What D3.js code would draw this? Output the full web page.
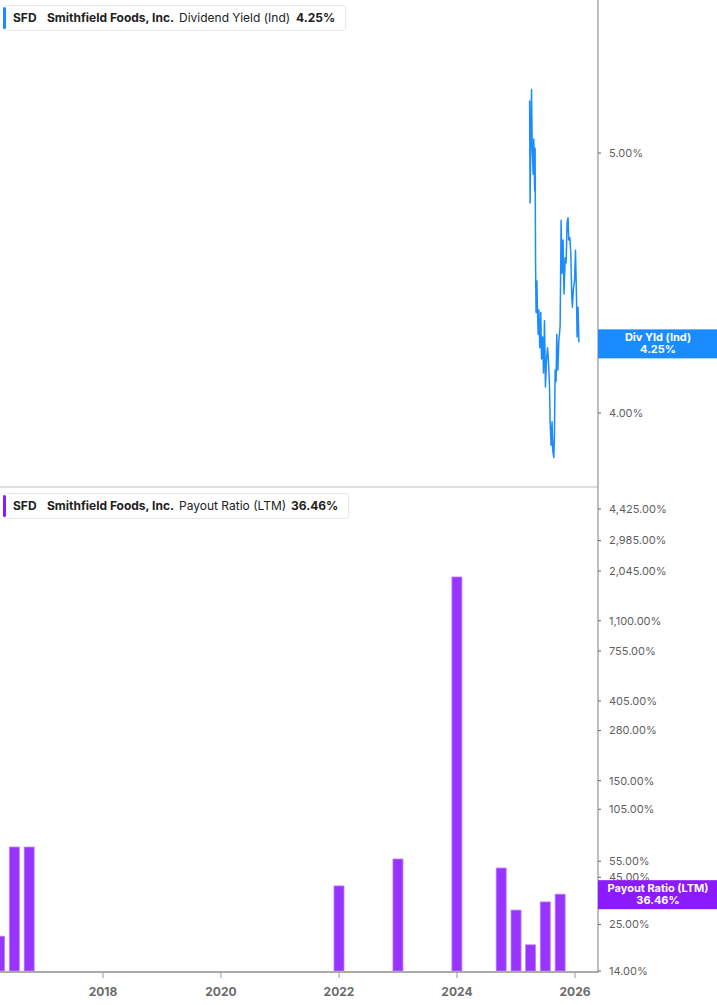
<!DOCTYPE html>
<html>
<head>
<meta charset="utf-8">
<script src="https://cdn.jsdelivr.net/npm/d3@7"></script>
<style>
  body { margin: 0; background: #fff; }
  svg { display: block; font-family: Inter, "Noto Sans", sans-serif; }
  .tick-label { fill: #5f5f5f; font-size: 11px; }
  .year-label { fill: #6b6b6b; font-size: 12px; font-weight: 700; }
  .legend text { font-size: 12px; fill: #222; }
  .tag text { fill: #fff; font-size: 11px; font-weight: 700; }
</style>
</head>
<body>
<svg id="chart" width="717" height="1005"></svg>
<script>
// dividend yield (indicated), %
const yieldDates = [
  '2025-03-26', '2025-03-29', '2025-04-02', '2025-04-07', '2025-04-11', '2025-04-17',
  '2025-04-21', '2025-04-26', '2025-04-29', '2025-05-02', '2025-05-05', '2025-05-10',
  '2025-05-14', '2025-05-18', '2025-05-22', '2025-05-28', '2025-06-03', '2025-06-08',
  '2025-06-14', '2025-06-20', '2025-06-26', '2025-07-02', '2025-07-09', '2025-07-15',
  '2025-07-21', '2025-07-27', '2025-07-31', '2025-08-06', '2025-08-12', '2025-08-17',
  '2025-08-23', '2025-08-27', '2025-08-31', '2025-09-06', '2025-09-10', '2025-09-17',
  '2025-09-23', '2025-09-27', '2025-10-01', '2025-10-07', '2025-10-13', '2025-10-19',
  '2025-10-25', '2025-11-01', '2025-11-07', '2025-11-13', '2025-11-19', '2025-11-23',
  '2025-11-30', '2025-12-06', '2025-12-12', '2025-12-16', '2025-12-22', '2025-12-29',
  '2026-01-04', '2026-01-10', '2026-01-14', '2026-01-20', '2026-01-25'
]
const yieldValues = [
  5.23, 4.79, 5.03, 5.28, 5.03, 4.91,
  5.06, 4.84, 5.02, 4.54, 4.36, 4.48,
  4.36, 4.28, 4.37, 4.23, 4.36, 4.19,
  4.27, 4.14, 4.33, 4.09, 4.19, 4.23,
  4.18, 4.10, 3.97, 3.89, 3.97, 3.87,
  3.85, 3.93, 4.15, 4.11, 4.28, 4.15,
  4.26, 4.28, 4.31, 4.72, 4.51, 4.64,
  4.43, 4.57, 4.55, 4.71, 4.73, 4.64,
  4.65, 4.59, 4.42, 4.38, 4.45, 4.48,
  4.60, 4.43, 4.27, 4.38, 4.25
]
const yieldTicks = [4, 5]

// payout ratio (LTM), %
const payoutDates = [
  '2016-04-01', '2016-07-01', '2016-10-01', '2022-01-01', '2023-01-01', '2024-01-01',
  '2024-10-01', '2025-01-01', '2025-04-01', '2025-07-01', '2025-10-01'
]
const payoutValues = [21.6, 65.6, 65.6, 40.4, 56.5, 1897, 50.5, 29.9, 19.4, 33.1, 36.46]
const payoutTicks = [4425, 2985, 2045, 1100, 755, 405, 280, 150, 105, 55, 45, 25, 14]

const yearTicks = [2018, 2020, 2022, 2024, 2026]

const parse = d3.timeParse('%Y-%m-%d')
const pct = (v) => d3.format(',.2f')(v) + '%'

const svg = d3.select('#chart')
const axisX = 598
const topBottom = 487
const baseY = 971

const x = d3.scaleTime()
  .domain([new Date(2018, 0, 1), new Date(2026, 0, 1)])
  .range([103, 575])

const yTop = d3.scaleLog().domain([4, 5]).range([413, 153])
const yBot = d3.scaleLog().domain([14, 4425]).range([baseY, 509])

// separator between panels
svg.append('line')
  .attr('x1', 0).attr('x2', axisX)
  .attr('y1', topBottom).attr('y2', topBottom)
  .attr('stroke', '#dedede').attr('stroke-width', 2)

// top panel line
svg.append('defs').append('clipPath').attr('id', 'clipTop')
  .append('rect').attr('x', 0).attr('y', 0).attr('width', axisX).attr('height', topBottom)

const yieldData = yieldDates.map((d, i) => ({ date: parse(d), value: yieldValues[i] }))
svg.append('path')
  .datum(yieldData)
  .attr('clip-path', 'url(#clipTop)')
  .attr('fill', 'none')
  .attr('stroke', '#1a8cff')
  .attr('stroke-width', 1.5)
  .attr('stroke-linejoin', 'round')
  .attr('d', d3.line().x((d) => x(d.date)).y((d) => yTop(d.value)))

// bottom panel bars
const payoutData = payoutDates.map((d, i) => ({ date: parse(d), value: payoutValues[i] }))
const barW = 10
svg.append('g')
  .selectAll('rect')
  .data(payoutData)
  .join('rect')
  .attr('x', (d) => x(d.date) - barW / 2)
  .attr('y', (d) => yBot(d.value))
  .attr('width', barW)
  .attr('height', (d) => baseY - yBot(d.value))
  .attr('fill', '#9933ff')
  .attr('stroke', '#b980ff')
  .attr('stroke-width', 0.8)

// x axis
const xAxis = svg.append('g').attr('transform', `translate(0,${baseY + 1})`)
xAxis.append('line')
  .attr('x1', 0).attr('x2', axisX)
  .attr('stroke', '#aaa').attr('stroke-width', 2)
const yt = xAxis.selectAll('g.yt')
  .data(yearTicks)
  .join('g')
  .attr('class', 'yt')
  .attr('transform', (d) => `translate(${x(new Date(d, 0, 1))},0)`)
yt.append('line').attr('y1', 0).attr('y2', 6).attr('stroke', '#999')
yt.append('text')
  .attr('class', 'year-label')
  .attr('y', 24)
  .attr('text-anchor', 'middle')
  .text((d) => d)

// right axis line
svg.append('line')
  .attr('x1', axisX).attr('x2', axisX)
  .attr('y1', 0).attr('y2', baseY + 2)
  .attr('stroke', '#a8a8a8').attr('stroke-width', 1.5)

function rightTicks(scale, values) {
  const g = svg.append('g')
  const t = g.selectAll('g')
    .data(values)
    .join('g')
    .attr('transform', (d) => `translate(${axisX},${scale(d)})`)
  t.append('line').attr('x1', 0).attr('x2', 3).attr('stroke', '#666')
  t.append('text')
    .attr('class', 'tick-label')
    .attr('x', 11)
    .attr('dy', '0.35em')
    .text((d) => pct(d))
}
rightTicks(yTop, yieldTicks)
rightTicks(yBot, payoutTicks)

// value tags
function tag(yPos, color, line1, line2) {
  const g = svg.append('g').attr('class', 'tag').attr('transform', `translate(${axisX},${yPos})`)
  g.append('rect').attr('x', 0).attr('y', -14).attr('width', 717 - axisX).attr('height', 29).attr('fill', color)
  g.append('text').attr('x', 60).attr('y', -2).attr('text-anchor', 'middle').text(line1)
  g.append('text').attr('x', 60).attr('y', 10).attr('text-anchor', 'middle').text(line2)
}
const lastYield = yieldValues[yieldValues.length - 1]
const lastPayout = payoutValues[payoutValues.length - 1]
tag(yTop(lastYield) + 1, '#1a8cff', 'Div Yld (Ind)', pct(lastYield))
tag(yBot(lastPayout), '#8c1aff', 'Payout Ratio (LTM)', pct(lastPayout))

// legends
function legend(top, color, metric, value, valueX, width) {
  const g = svg.append('g').attr('class', 'legend').attr('transform', `translate(3,${top})`)
  g.append('rect')
    .attr('x', 0.5).attr('y', 0.5).attr('width', width).attr('height', 25).attr('rx', 3)
    .attr('fill', '#fff').attr('stroke', '#e6e6e6')
  g.append('rect').attr('x', 0).attr('y', 2).attr('width', 3).attr('height', 22).attr('rx', 1.5).attr('fill', color)
  const t = g.append('text').attr('y', 17)
  t.append('tspan').attr('x', 10).attr('font-weight', 700).text('SFD')
  t.append('tspan').attr('x', 44).attr('font-weight', 700).text('Smithfield Foods, Inc.')
  t.append('tspan').attr('x', 176).text(metric)
  t.append('tspan').attr('x', valueX).attr('font-weight', 700).text(value)
}
legend(5, '#1a8cff', 'Dividend Yield (Ind)', pct(lastYield), 293, 342)
legend(493, '#8c1aff', 'Payout Ratio (LTM)', pct(lastPayout), 288, 345)
</script>
</body>
</html>
